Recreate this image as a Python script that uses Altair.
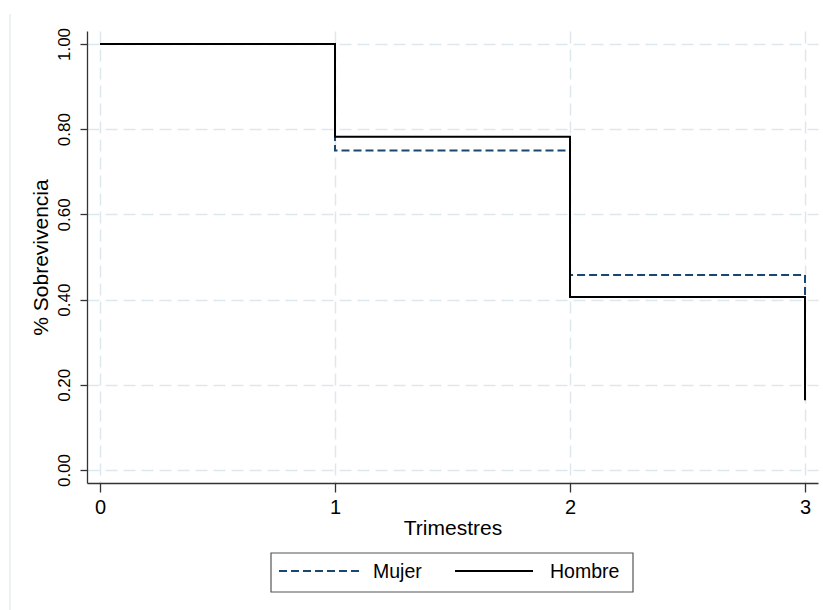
import altair as alt
import pandas as pd

# Kaplan-Meier survival estimates by sex, per quarter
trimestres = [0, 1, 2, 3]
mujer = [1.00, 0.750, 0.458, 0.410]
hombre = [1.00, 0.782, 0.406, 0.164]

grupos = ["Mujer", "Hombre"]
colores = ["#1a476f", "#000000"]
trazos = [[8, 4], [1, 0]]

y_ticks = [0.0, 0.2, 0.4, 0.6, 0.8, 1.0]
x_ticks = [0, 1, 2, 3]

df = pd.DataFrame(
    {
        "t": trimestres * 2,
        "s": mujer + hombre,
        "grupo": ["Mujer"] * len(trimestres) + ["Hombre"] * len(trimestres),
    }
)

FONT = "Liberation Sans"
GRID = "#dde8ee"

x_enc = alt.X(
    "t:Q",
    title="Trimestres",
    scale=alt.Scale(domain=[-0.0553, 3.0553], nice=False, zero=False),
    axis=alt.Axis(
        values=x_ticks,
        format="d",
        labelFontSize=20,
        labelPadding=5,
        titleFontSize=21,
        titlePadding=0,
        tickSize=9,
        grid=True,
    ),
)
y_enc = alt.Y(
    "s:Q",
    title="% Sobrevivencia",
    scale=alt.Scale(domain=[-0.0305, 1.0305], nice=False, zero=False),
    axis=alt.Axis(
        values=y_ticks,
        format=".2f",
        labelAngle=-90,
        labelFontSize=17,
        labelPadding=7,
        titleFontSize=21,
        titlePadding=4,
        tickSize=7,
        grid=True,
    ),
)
color_enc = alt.Color(
    "grupo:N", scale=alt.Scale(domain=grupos, range=colores), legend=None
)
dash_enc = alt.StrokeDash(
    "grupo:N", scale=alt.Scale(domain=grupos, range=trazos), legend=None
)

base = alt.Chart(df).encode(x=x_enc, y=y_enc, color=color_enc, strokeDash=dash_enc)

linea_mujer = base.transform_filter(alt.datum.grupo == "Mujer").mark_line(
    interpolate="step-after", strokeWidth=2
)
linea_hombre = base.transform_filter(alt.datum.grupo == "Hombre").mark_line(
    interpolate="step-after", strokeWidth=2
)

uno = pd.DataFrame({"k": [0]})

# faint outer border line of the graph region
borde = alt.Chart(uno).mark_rule(color="#e4eeee", strokeWidth=1.5).encode(
    x=alt.value(-77), y=alt.value(-17), y2=alt.value(579)
)

# legend below the plot: framed box with a line sample and a label per group
caja = alt.Chart(uno).mark_rect(
    fill="white", stroke="#555555", strokeWidth=1.2
).encode(x=alt.value(184), x2=alt.value(546), y=alt.value(522), y2=alt.value(561))

leyenda = [caja]
for nombre, col, dash, x0, x1, xt in [
    (grupos[0], colores[0], trazos[0], 192, 272, 286),
    (grupos[1], colores[1], trazos[1], 368, 446, 463),
]:
    leyenda.append(
        alt.Chart(uno)
        .mark_rule(strokeWidth=2, color=col, strokeDash=dash)
        .encode(x=alt.value(x0), x2=alt.value(x1), y=alt.value(540))
    )
    leyenda.append(
        alt.Chart(uno)
        .mark_text(
            text=nombre, font=FONT, fontSize=19.5, align="left", baseline="middle",
            color="#000000",
        )
        .encode(x=alt.value(xt), y=alt.value(541))
    )

chart = (
    alt.layer(borde, linea_mujer, linea_hombre, *leyenda)
    .properties(
        width=731,
        height=452,
        autosize=alt.AutoSizeParams(type="none"),
        padding={"left": 87, "top": 31, "right": 5, "bottom": 127},
        background="white",
    )
    .configure_view(stroke=None)
    .configure_axis(
        labelFont=FONT,
        titleFont=FONT,
        labelColor="#000000",
        titleColor="#000000",
        titleFontWeight="normal",
        domainColor="#333333",
        domainWidth=1.3,
        tickColor="#333333",
        tickWidth=1.3,
        gridColor=GRID,
        gridWidth=1.5,
        gridDash=[12, 6],
    )
)

chart.save("out.html", embed_options={"renderer": "svg", "actions": False})
